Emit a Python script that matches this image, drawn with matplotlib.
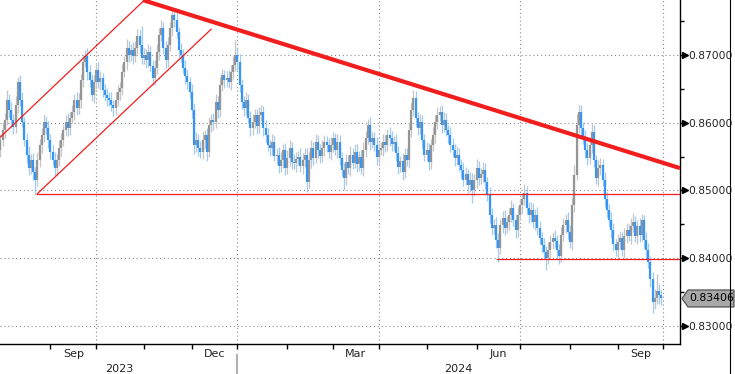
import matplotlib
matplotlib.use("Agg")
import matplotlib.pyplot as plt
import matplotlib.transforms as mtransforms
from matplotlib.patches import Polygon
from matplotlib.lines import Line2D
import numpy as np
import pandas as pd

## data (daily bars)
dates = pd.bdate_range("2023-08-01", "2024-09-30")
first_open = 0.8560
closes = [
    0.8575, 0.8589, 0.8604, 0.8634, 0.8619, 0.8604, 0.8594, 0.8626, 0.8660, 0.8634,
    0.8601, 0.8575, 0.8553, 0.8533, 0.8545, 0.8527, 0.8516, 0.8545, 0.8567, 0.8582,
    0.8601, 0.8592, 0.8575, 0.8557, 0.8545, 0.8533, 0.8545, 0.8563, 0.8575, 0.8589,
    0.8601, 0.8592, 0.8607, 0.8616, 0.8634, 0.8622, 0.8634, 0.8663, 0.8690, 0.8699,
    0.8675, 0.8663, 0.8641, 0.8660, 0.8678, 0.8660, 0.8666, 0.8648, 0.8641, 0.8636,
    0.8634, 0.8626, 0.8622, 0.8634, 0.8645, 0.8651, 0.8675, 0.8690, 0.8710, 0.8700,
    0.8707, 0.8699, 0.8710, 0.8728, 0.8715, 0.8696, 0.8700, 0.8693, 0.8704, 0.8684,
    0.8666, 0.8681, 0.8704, 0.8730, 0.8740, 0.8710, 0.8693, 0.8715, 0.8740, 0.8759,
    0.8752, 0.8734, 0.8707, 0.8700, 0.8681, 0.8669, 0.8660, 0.8645, 0.8619, 0.8567,
    0.8575, 0.8563, 0.8557, 0.8575, 0.8582, 0.8557, 0.8597, 0.8604, 0.8601, 0.8630,
    0.8619, 0.8656, 0.8670, 0.8663, 0.8666, 0.8660, 0.8675, 0.8685, 0.8700, 0.8690,
    0.8656, 0.8630, 0.8622, 0.8634, 0.8607, 0.8592, 0.8601, 0.8611, 0.8595, 0.8611,
    0.8616, 0.8592, 0.8582, 0.8567, 0.8563, 0.8572, 0.8551, 0.8553, 0.8536, 0.8545,
    0.8560, 0.8533, 0.8548, 0.8563, 0.8542, 0.8540, 0.8547, 0.8550, 0.8536, 0.8545,
    0.8553, 0.8512, 0.8545, 0.8563, 0.8548, 0.8572, 0.8560, 0.8551, 0.8563, 0.8572,
    0.8567, 0.8557, 0.8567, 0.8577, 0.8560, 0.8572, 0.8548, 0.8530, 0.8518, 0.8542,
    0.8533, 0.8553, 0.8541, 0.8557, 0.8539, 0.8550, 0.8533, 0.8560, 0.8577, 0.8597,
    0.8572, 0.8577, 0.8567, 0.8550, 0.8560, 0.8563, 0.8572, 0.8567, 0.8582, 0.8578,
    0.8568, 0.8572, 0.8555, 0.8535, 0.8543, 0.8528, 0.8553, 0.8545, 0.8589, 0.8619,
    0.8637, 0.8607, 0.8592, 0.8601, 0.8575, 0.8553, 0.8560, 0.8542, 0.8567, 0.8582,
    0.8601, 0.8611, 0.8616, 0.8597, 0.8604, 0.8589, 0.8582, 0.8567, 0.8560, 0.8548,
    0.8553, 0.8538, 0.8530, 0.8516, 0.8524, 0.8508, 0.8516, 0.8501, 0.8516, 0.8533,
    0.8518, 0.8524, 0.8530, 0.8512, 0.8493, 0.8464, 0.8445, 0.8449, 0.8427, 0.8415,
    0.8449, 0.8459, 0.8445, 0.8453, 0.8464, 0.8474, 0.8456, 0.8442, 0.8464, 0.8478,
    0.8488, 0.8497, 0.8474, 0.8464, 0.8471, 0.8453, 0.8464, 0.8445, 0.8430, 0.8420,
    0.8409, 0.8400, 0.8412, 0.8424, 0.8430, 0.8425, 0.8412, 0.8404, 0.8434, 0.8449,
    0.8456, 0.8439, 0.8424, 0.8478, 0.8523, 0.8597, 0.8616, 0.8592, 0.8577, 0.8560,
    0.8548, 0.8567, 0.8586, 0.8545, 0.8518, 0.8533, 0.8538, 0.8516, 0.8488, 0.8471,
    0.8456, 0.8442, 0.8421, 0.8412, 0.8424, 0.8430, 0.8412, 0.8433, 0.8442, 0.8433,
    0.8448, 0.8453, 0.8433, 0.8448, 0.8434, 0.8456, 0.8427, 0.8412, 0.8394, 0.8370,
    0.8335, 0.8342, 0.8352, 0.8345, 0.83406,
]
# wick lengths above / below the body, in pips
wick_up = [
    9, 12, 10, 14, 8, 11, 9, 13, 8, 10,  11, 8, 10, 12, 9, 11, 7, 12, 9, 10,
    12, 9, 11, 8, 10, 12, 9, 11, 10, 8,  11, 13, 9, 10, 8, 12, 10, 9, 12, 8,
    12, 10, 9, 11, 8, 12, 10, 7, 9, 11,  9, 11, 8, 12, 10, 9, 12, 8, 13, 10,
    9, 12, 10, 11, 9, 28, 10, 9, 12, 10,  8, 11, 12, 10, 12, 9, 10, 12, 9, 12,
    10, 12, 8, 11, 9, 12, 10, 8, 12, 10,  12, 9, 10, 13, 8, 10, 12, 9, 10, 12,
    9, 12, 10, 8, 11, 12, 10, 13, 22, 10,  12, 9, 10, 12, 8, 11, 12, 9, 10, 12,
    10, 9, 12, 10, 8, 12, 10, 9, 11, 12,  9, 10, 12, 11, 8, 12, 10, 9, 12, 10,
    10, 9, 12, 11, 8, 12, 10, 9, 12, 10,  9, 11, 12, 10, 8, 12, 10, 9, 11, 12,
    10, 12, 9, 11, 12, 8, 10, 12, 11, 9,  12, 10, 9, 12, 10, 8, 12, 10, 9, 12,
    10, 9, 12, 10, 8, 12, 10, 9, 12, 10,  12, 10, 9, 12, 10, 8, 12, 10, 9, 12,
    10, 12, 9, 10, 12, 10, 8, 12, 10, 9,  12, 10, 9, 12, 10, 8, 12, 10, 9, 14,
    10, 9, 12, 10, 8, 12, 10, 9, 12, 10,  9, 10, 12, 9, 10, 12, 8, 10, 12, 10,
    8, 12, 10, 9, 12, 10, 8, 12, 10, 9,  10, 9, 12, 10, 8, 12, 10, 9, 12, 10,
    9, 12, 10, 12, 14, 16, 10, 10, 9, 12,  10, 9, 12, 10, 8, 12, 10, 9, 12, 10,
    9, 12, 10, 8, 12, 10, 9, 12, 10, 8,  12, 14, 10, 9, 12, 10, 8, 12, 10, 9,
    10, 12, 24, 10, 8,
]
wick_dn = [
    10, 9, 12, 8, 10, 12, 10, 9, 12, 10,  8, 10, 12, 10, 9, 12, 22, 9, 10, 12,
    10, 9, 12, 10, 8, 12, 10, 9, 12, 10,  9, 12, 10, 8, 12, 10, 9, 12, 10, 8,
    12, 10, 9, 12, 10, 8, 12, 10, 9, 12,  10, 8, 12, 10, 9, 12, 10, 8, 12, 10,
    9, 12, 10, 8, 12, 10, 9, 12, 10, 8,  12, 10, 9, 12, 10, 8, 12, 10, 9, 12,
    10, 9, 12, 10, 8, 12, 10, 9, 12, 13,  10, 12, 9, 10, 12, 14, 8, 10, 12, 9,
    12, 10, 9, 12, 10, 8, 12, 10, 9, 12,  10, 9, 12, 10, 8, 12, 10, 9, 12, 10,
    8, 12, 10, 9, 12, 10, 8, 12, 10, 9,  12, 10, 9, 12, 10, 8, 12, 10, 9, 12,
    10, 14, 9, 12, 10, 8, 12, 10, 9, 12,  10, 9, 12, 10, 8, 12, 10, 9, 18, 10,
    9, 12, 10, 8, 12, 10, 9, 12, 10, 8,  12, 10, 9, 12, 10, 8, 12, 10, 9, 12,
    10, 9, 12, 10, 8, 12, 10, 9, 12, 10,  9, 12, 10, 8, 12, 10, 9, 12, 10, 8,
    12, 10, 9, 12, 10, 8, 12, 10, 9, 12,  10, 9, 12, 10, 8, 12, 10, 20, 9, 12,
    10, 9, 12, 10, 8, 12, 10, 9, 12, 20,  9, 12, 10, 8, 12, 10, 9, 12, 10, 8,
    12, 10, 9, 12, 10, 8, 12, 10, 9, 12,  10, 18, 9, 12, 10, 8, 12, 12, 10, 9,
    12, 10, 9, 12, 10, 8, 12, 10, 9, 12,  10, 9, 12, 10, 8, 12, 10, 9, 12, 10,
    9, 12, 10, 8, 12, 10, 9, 12, 10, 8,  12, 10, 9, 12, 10, 8, 12, 10, 9, 12,
    16, 10, 9, 12, 10,
]
last_price = 0.83406

price_ticks = [0.83, 0.84, 0.85, 0.86, 0.87]
minor_ticks = [0.835, 0.845, 0.855, 0.865, 0.875]
label_months = [(2023, 9), (2023, 12), (2024, 3), (2024, 6), (2024, 9)]
month_names = ["Sep", "Dec", "Mar", "Jun", "Sep"]
years = ["2023", "2024"]

# hand-drawn analysis lines: (bar index, price)
resist_x, resist_y = [65.6, 312.6], [0.8781, 0.8533]
chan_hi_x, chan_hi_y = [0.0, 66.2], [0.8579, 0.8781]
chan_lo_x, chan_lo_y = [16.9, 96.9], [0.8495, 0.8738]
sup1_x, sup1_y = [16.9, 313.0], [0.8495, 0.8495]
sup2_x, sup2_y = [228.6, 313.0], [0.8399, 0.8399]

## figure
W, H = 735, 374
fig = plt.figure(figsize=(W / 100, H / 100), dpi=100)
ax = fig.add_axes([0, 30 / H, 680 / W, 344 / H])
xmax = 312.6
ax.set_xlim(-0.2, xmax)
ax.set_ylim(0.82734, 0.87812)

c = np.array(closes)
o = np.r_[first_open, c[:-1]]
hi = np.maximum(o, c) + np.array(wick_up) / 1e4
lo = np.minimum(o, c) - np.array(wick_dn) / 1e4
x = np.arange(len(c))
up = c >= o
bot = np.minimum(o, c)
top = np.maximum(np.maximum(o, c), bot + 0.00008)

ax.vlines(x[up], lo[up], hi[up], color="#c6c6c6", lw=0.9, zorder=2)
ax.vlines(x[~up], lo[~up], hi[~up], color="#9fcbf7", lw=0.9, zorder=2)
ax.vlines(x[up], bot[up], top[up], color="#959595", lw=1.6, zorder=3)
ax.vlines(x[~up], bot[~up], top[~up], color="#3896f2", lw=1.6, zorder=3)

# red lines
red = "#f21d1d"
ax.plot(resist_x, resist_y, color=red, lw=3.0, solid_capstyle="butt", zorder=5)
ax.plot(chan_hi_x, chan_hi_y, color=red, lw=0.9, zorder=5)
ax.plot(chan_lo_x, chan_lo_y, color=red, lw=0.9, zorder=5)
ax.plot(sup1_x, sup1_y, color=red, lw=0.9, zorder=5)
ax.plot(sup2_x, sup2_y, color=red, lw=0.9, zorder=5)

# month boundaries from the dates
month_start = [i for i in range(1, len(dates)) if dates[i].month != dates[i - 1].month]
month_start.append(len(dates))
quarter = [i for i in month_start[:-1] if dates[i].month in (1, 4, 7, 10)] + [len(dates)]

dot = (0, (1, 2.5))
for q in quarter:
    ax.axvline(q, color="#8a8a8a", lw=0.8, ls=dot, zorder=1)
for p in price_ticks:
    ax.axhline(p, color="#8a8a8a", lw=0.8, ls=dot, zorder=1)

# axes styling
for s in ["left", "top"]:
    ax.spines[s].set_visible(False)
ax.spines["right"].set_linewidth(1.0)
ax.spines["bottom"].set_linewidth(1.0)
ax.yaxis.tick_right()
ax.set_yticks(price_ticks)
ax.set_yticklabels([f"{p:.5f}" for p in price_ticks])
ax.set_yticks(minor_ticks, minor=True)
ax.tick_params(axis="y", which="major", length=3, width=1, pad=2.6,
               labelsize=7.7, labelcolor="#222222")
ax.tick_params(axis="y", which="minor", length=3, width=1)
ax.set_xticks(month_start)
ax.set_xticklabels([])
ax.tick_params(axis="x", which="major", length=3.5, width=1)

tr = mtransforms.blended_transform_factory(ax.transAxes, ax.transData)
ax.plot([1.0075] * len(price_ticks), price_ticks, ls="none", marker=">", ms=3.8,
        color="black", transform=tr, clip_on=False)

# month and year labels
for (yy, mm), name in zip(label_months, month_names):
    idx = [i for i, d in enumerate(dates) if d.year == yy and d.month == mm]
    cx = (idx[0] + idx[-1] + 1) / 2
    ax.annotate(name, xy=(cx, 0), xycoords=("data", "axes fraction"),
                xytext=(0, -3.5), textcoords="offset points",
                ha="center", va="top", fontsize=8, color="#222222")
jan = [i for i in month_start if dates[min(i, len(dates) - 1)].month == 1][0]
for name, cx in zip(years, [(0 + jan) / 2, (jan + xmax) / 2]):
    ax.annotate(name, xy=(cx, 0), xycoords=("data", "axes fraction"),
                xytext=(0, -14.5), textcoords="offset points",
                ha="center", va="top", fontsize=8, color="#222222")
trx = mtransforms.blended_transform_factory(ax.transData, ax.transAxes)
ax.plot([jan, jan], [-11 / 344, -30 / 344], color="#b0b0b0", lw=1.5,
        transform=trx, clip_on=False)

# right border
fig.add_artist(Line2D([730 / W, 730 / W], [0, 1], color="black", lw=0.8,
                      transform=fig.transFigure))

# last price tag
_, yd = ax.transData.transform((0, last_price))
yc = yd / H
hh = 8.5 / H
pts = [(682 / W, yc), (688 / W, yc + hh), (734 / W, yc + hh),
       (734 / W, yc - hh), (688 / W, yc - hh)]
fig.add_artist(Polygon(pts, closed=True, facecolor="#a8a8a8", edgecolor="#444444",
                       lw=0.8, transform=fig.transFigure))
fig.text(689 / W, yc, f"{last_price:.5f}", ha="left", va="center",
         fontsize=7.8, color="black")

fig.savefig("out.png", dpi=100)
